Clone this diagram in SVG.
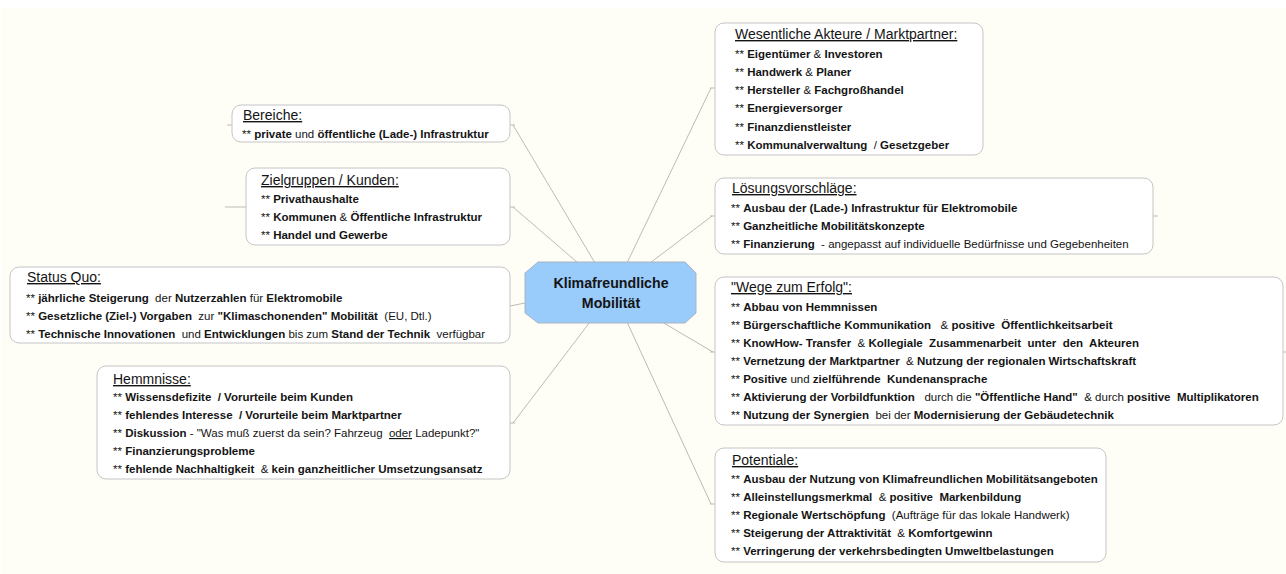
<svg xmlns="http://www.w3.org/2000/svg" width="1286" height="574" viewBox="0 0 1286 574" xml:space="preserve">
<style>
.bg{fill:#fffef6}
.box{fill:#ffffff;stroke:#c4c4c4;stroke-width:1}
.con{fill:none;stroke:#bdbab4;stroke-width:1}
text{font-family:"Liberation Sans",Arial,sans-serif;fill:#141414;white-space:pre}
.t{font-size:14px;text-decoration:underline}
.i{font-size:11.5px}
.b{font-weight:bold}
.u{text-decoration:underline}
.c{font-size:14.2px;font-weight:bold;text-anchor:middle}
</style>
<rect x="0" y="0" width="1286" height="574" fill="#ffffff"/>
<rect class="bg" x="1" y="8" width="1285" height="566"/>
<g id="connectors">
<path class="con" d="M595,263 L513,125 M227,125 L237,125 M505,125 L515,125"/>
<path class="con" d="M578,263 L513,207 M225,207 L250,207 M505,207 L515,207"/>
<path class="con" d="M525,303 L510,306"/>
<path class="con" d="M590,322 L513,423 M505,423 L515,423"/>
<path class="con" d="M627,263 L711,88 M710,88 L720,88"/>
<path class="con" d="M650,263 L712,216 M710,216 L720,216 M1148,216 L1158,216"/>
<path class="con" d="M662,322 L713,352 M710,352 L720,352 M1278,352 L1290,352"/>
<path class="con" d="M627,322 L711,504 M710,504 L720,504"/>
</g>
<g id="center">
<polygon points="538,262 685,262 696,273 696,313 685,323 538,323 525,313 525,273" fill="#99cbfb" stroke="#a9b4c0" stroke-width="1"/>
<text class="c" x="611" y="288">Klimafreundliche</text>
<text class="c" x="611" y="308">Mobilität</text>
</g>
<g id="bereiche">
<rect class="box" x="232" y="105" width="278" height="37" rx="9"/>
<text class="t" x="243" y="120">Bereiche:</text>
<text class="i" x="242" y="138">** <tspan class="b">private</tspan> und <tspan class="b">öffentliche (Lade-) Infrastruktur</tspan></text>
</g>
<g id="zielgruppen">
<rect class="box" x="246" y="168" width="264" height="77" rx="9"/>
<text class="t" x="261" y="185">Zielgruppen / Kunden:</text>
<text class="i" x="261" y="203">** <tspan class="b">Privathaushalte</tspan></text>
<text class="i" x="261" y="221">** <tspan class="b">Kommunen</tspan> &amp; <tspan class="b">Öffentliche Infrastruktur</tspan></text>
<text class="i" x="261" y="239">** <tspan class="b">Handel und Gewerbe</tspan></text>
</g>
<g id="statusquo">
<rect class="box" x="10" y="267" width="500" height="76" rx="9"/>
<text class="t" x="27" y="282">Status Quo:</text>
<text class="i" x="26" y="302">** <tspan class="b">jährliche Steigerung</tspan>  der <tspan class="b">Nutzerzahlen</tspan> für <tspan class="b">Elektromobile</tspan></text>
<text class="i" x="26" y="320">** <tspan class="b">Gesetzliche (Ziel-) Vorgaben</tspan>  zur <tspan class="b">"Klimaschonenden" Mobilität</tspan>  (EU, Dtl.)</text>
<text class="i" x="26" y="338">** <tspan class="b">Technische Innovationen</tspan>  und <tspan class="b">Entwicklungen</tspan> bis zum <tspan class="b">Stand der Technik</tspan>  verfügbar</text>
</g>
<g id="hemmnisse">
<rect class="box" x="97" y="366" width="413" height="113" rx="9"/>
<text class="t" x="113" y="384">Hemmnisse:</text>
<text class="i" x="113" y="401">** <tspan class="b">Wissensdefizite  / Vorurteile beim Kunden</tspan></text>
<text class="i" x="113" y="419">** <tspan class="b">fehlendes Interesse  / Vorurteile beim Marktpartner</tspan></text>
<text class="i" x="113" y="437">** <tspan class="b">Diskussion</tspan> - "Was muß zuerst da sein? Fahrzeug  <tspan class="u">oder</tspan> Ladepunkt?"</text>
<text class="i" x="113" y="455">** <tspan class="b">Finanzierungsprobleme</tspan></text>
<text class="i" x="113" y="473">** <tspan class="b">fehlende Nachhaltigkeit</tspan>  &amp; <tspan class="b">kein ganzheitlicher Umsetzungsansatz</tspan></text>
</g>
<g id="akteure">
<rect class="box" x="715" y="23" width="268" height="132" rx="9"/>
<text class="t" x="735" y="39">Wesentliche Akteure / Marktpartner:</text>
<text class="i" x="735" y="58">** <tspan class="b">Eigentümer</tspan> &amp; <tspan class="b">Investoren</tspan></text>
<text class="i" x="735" y="76">** <tspan class="b">Handwerk</tspan> &amp; <tspan class="b">Planer</tspan></text>
<text class="i" x="735" y="94">** <tspan class="b">Hersteller</tspan> &amp; <tspan class="b">Fachgroßhandel</tspan></text>
<text class="i" x="735" y="112">** <tspan class="b">Energieversorger</tspan></text>
<text class="i" x="735" y="131">** <tspan class="b">Finanzdienstleister</tspan></text>
<text class="i" x="735" y="149">** <tspan class="b">Kommunalverwaltung</tspan>  / <tspan class="b">Gesetzgeber</tspan></text>
</g>
<g id="loesungen">
<rect class="box" x="715" y="178" width="438" height="76" rx="9"/>
<text class="t" x="732" y="193">Lösungsvorschläge:</text>
<text class="i" x="731" y="212">** <tspan class="b">Ausbau der (Lade-) Infrastruktur für Elektromobile</tspan></text>
<text class="i" x="731" y="230">** <tspan class="b">Ganzheitliche Mobilitätskonzepte</tspan></text>
<text class="i" x="731" y="248">** <tspan class="b">Finanzierung</tspan>  - angepasst auf individuelle Bedürfnisse und Gegebenheiten</text>
</g>
<g id="wege">
<rect class="box" x="715" y="277" width="568" height="148" rx="9"/>
<text class="t" x="731" y="292">"Wege zum Erfolg":</text>
<text class="i" x="731" y="311">** <tspan class="b">Abbau von Hemmnissen</tspan></text>
<text class="i" x="731" y="329">** <tspan class="b">Bürgerschaftliche Kommunikation</tspan>   &amp; <tspan class="b">positive  Öffentlichkeitsarbeit</tspan></text>
<text class="i" x="731" y="347">** <tspan class="b">KnowHow- Transfer</tspan>  &amp; <tspan class="b">Kollegiale  Zusammenarbeit  unter  den  Akteuren</tspan></text>
<text class="i" x="731" y="365">** <tspan class="b">Vernetzung der Marktpartner</tspan>  &amp; <tspan class="b">Nutzung der regionalen Wirtschaftskraft</tspan></text>
<text class="i" x="731" y="383">** <tspan class="b">Positive</tspan> und <tspan class="b">zielführende  Kundenansprache</tspan></text>
<text class="i" x="731" y="401">** <tspan class="b">Aktivierung der Vorbildfunktion</tspan>   durch die <tspan class="b">"Öffentliche Hand"</tspan>  &amp; durch <tspan class="b">positive  Multiplikatoren</tspan></text>
<text class="i" x="731" y="419">** <tspan class="b">Nutzung der Synergien</tspan>  bei der <tspan class="b">Modernisierung der Gebäudetechnik</tspan></text>
</g>
<g id="potentiale">
<rect class="box" x="715" y="448" width="391" height="114" rx="9"/>
<text class="t" x="732" y="465">Potentiale:</text>
<text class="i" x="731" y="483">** <tspan class="b">Ausbau der Nutzung von Klimafreundlichen Mobilitätsangeboten</tspan></text>
<text class="i" x="731" y="501">** <tspan class="b">Alleinstellungsmerkmal</tspan>  &amp; <tspan class="b">positive  Markenbildung</tspan></text>
<text class="i" x="731" y="519">** <tspan class="b">Regionale Wertschöpfung</tspan>  (Aufträge für das lokale Handwerk)</text>
<text class="i" x="731" y="537">** <tspan class="b">Steigerung der Attraktivität</tspan>  &amp; <tspan class="b">Komfortgewinn</tspan></text>
<text class="i" x="731" y="555">** <tspan class="b">Verringerung der verkehrsbedingten Umweltbelastungen</tspan></text>
</g>
</svg>
